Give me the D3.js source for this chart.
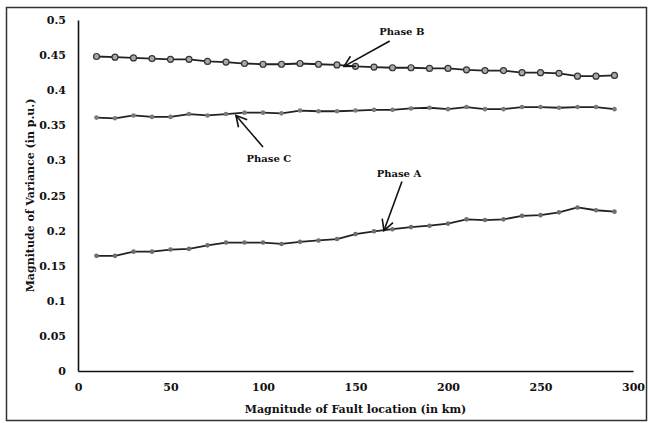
<!DOCTYPE html>
<html>
<head>
<meta charset="utf-8">
<script src="https://cdn.jsdelivr.net/npm/d3@7"></script>
<style>
  body { margin: 0; background: #fff; }
  svg text { font-family: "DejaVu Serif", "Liberation Serif", serif; font-weight: bold; fill: #111; }
</style>
</head>
<body>
<svg id="chart" width="649" height="423"></svg>
<script>
// fault location (km)
const locations = [10, 20, 30, 40, 50, 60, 70, 80, 90, 100, 110, 120, 130, 140, 150,
  160, 170, 180, 190, 200, 210, 220, 230, 240, 250, 260, 270, 280, 290];

// magnitude of variance (p.u.)
const phaseA = [0.164, 0.164, 0.170, 0.170, 0.173, 0.174, 0.179, 0.183, 0.183, 0.183,
  0.181, 0.184, 0.186, 0.188, 0.195, 0.199, 0.202, 0.205, 0.207, 0.210,
  0.216, 0.215, 0.216, 0.221, 0.222, 0.226, 0.233, 0.229, 0.227];
const phaseB = [0.448, 0.447, 0.446, 0.445, 0.444, 0.444, 0.441, 0.440, 0.438, 0.437,
  0.437, 0.438, 0.437, 0.436, 0.434, 0.433, 0.432, 0.432, 0.431, 0.431,
  0.429, 0.428, 0.428, 0.425, 0.425, 0.424, 0.420, 0.420, 0.421];
const phaseC = [0.361, 0.360, 0.364, 0.362, 0.362, 0.366, 0.364, 0.366, 0.368, 0.368,
  0.367, 0.371, 0.370, 0.370, 0.371, 0.372, 0.372, 0.374, 0.375, 0.373,
  0.376, 0.373, 0.373, 0.376, 0.376, 0.375, 0.376, 0.376, 0.373];

const xTicks = [0, 50, 100, 150, 200, 250, 300];
const yTicks = [0, 0.05, 0.1, 0.15, 0.2, 0.25, 0.3, 0.35, 0.4, 0.45, 0.5];

// arrow annotations, in data units: text anchor, arrow tail, arrow tip
const notes = [
  {label: 'Phase B', text: [175, 0.484], tail: [168.5, 0.470], tip: [143.8, 0.434]},
  {label: 'Phase C', text: [103.2, 0.303], tail: [100, 0.319], tip: [85.4, 0.364]},
  {label: 'Phase A', text: [173.5, 0.281], tail: [175.1, 0.270], tip: [165.4, 0.200]}
];

const svg = d3.select('#chart');
const margin = {left: 78, right: 16, top: 20, bottom: 52};
const width = 649, height = 423;

const x = d3.scaleLinear().domain([0, 300]).range([margin.left, width - margin.right]);
const y = d3.scaleLinear().domain([0, 0.5]).range([height - margin.bottom, margin.top]);

// outer frame
svg.append('rect')
  .attr('x', 6.5).attr('y', 7.5)
  .attr('width', 640).attr('height', 413)
  .attr('fill', 'none').attr('stroke', '#333').attr('stroke-width', 1.5);

// axes (no tick marks, just labels)
const xAxis = svg.append('g')
  .attr('transform', `translate(0,${y(0)})`)
  .call(d3.axisBottom(x).tickValues(xTicks).tickSize(0).tickPadding(12).tickFormat(d3.format('d')));
const yAxis = svg.append('g')
  .attr('transform', `translate(${x(0)},0)`)
  .call(d3.axisLeft(y).tickValues(yTicks).tickSize(0).tickPadding(12).tickFormat(d => d3.format('')(+d.toFixed(2))));

[xAxis, yAxis].forEach(g => {
  g.select('.domain').attr('stroke', '#111').attr('stroke-width', 1.6);
  g.selectAll('text').attr('font-size', 11).attr('font-family', null).attr('fill', '#111');
});

// axis titles
svg.append('text')
  .attr('x', (x(0) + x(300)) / 2).attr('y', 413)
  .attr('text-anchor', 'middle').attr('font-size', 11)
  .text('Magnitude of Fault location (in km)');
svg.append('text')
  .attr('transform', `translate(34,${y(0.25)}) rotate(-90)`)
  .attr('text-anchor', 'middle').attr('font-size', 11)
  .text('Magnitude of Variance (in p.u.)');

// series
const series = [
  {name: 'A', values: phaseA, r: 2.3, fill: '#6e6e6e', stroke: 'none'},
  {name: 'B', values: phaseB, r: 3, fill: '#a8a8a8', stroke: '#333'},
  {name: 'C', values: phaseC, r: 2.3, fill: '#7a7a7a', stroke: 'none'}
];

const line = d3.line()
  .x((d, i) => x(locations[i]))
  .y(d => y(d));

series.forEach(s => {
  const g = svg.append('g').attr('class', 'series-' + s.name);
  g.append('path')
    .datum(s.values)
    .attr('d', line)
    .attr('fill', 'none')
    .attr('stroke', '#222')
    .attr('stroke-width', 1.8);
  g.selectAll('circle')
    .data(s.values)
    .join('circle')
      .attr('cx', (d, i) => x(locations[i]))
      .attr('cy', d => y(d))
      .attr('r', s.r)
      .attr('fill', s.fill)
      .attr('stroke', s.stroke)
      .attr('stroke-width', 1.2);
});

// annotations with open arrow heads
notes.forEach(n => {
  const x1 = x(n.tail[0]), y1 = y(n.tail[1]);
  const x2 = x(n.tip[0]), y2 = y(n.tip[1]);
  const ang = Math.atan2(y1 - y2, x1 - x2);
  const len = 12, spread = 0.5;
  const g = svg.append('g').attr('class', 'note');
  g.append('line')
    .attr('x1', x1).attr('y1', y1).attr('x2', x2).attr('y2', y2)
    .attr('stroke', '#111').attr('stroke-width', 1.6);
  g.append('path')
    .attr('d', `M${x2 + len * Math.cos(ang - spread)},${y2 + len * Math.sin(ang - spread)}` +
               `L${x2},${y2}` +
               `L${x2 + len * Math.cos(ang + spread)},${y2 + len * Math.sin(ang + spread)}`)
    .attr('fill', 'none').attr('stroke', '#111').attr('stroke-width', 1.6);
  g.append('text')
    .attr('x', x(n.text[0])).attr('y', y(n.text[1]))
    .attr('dy', '0.35em')
    .attr('text-anchor', 'middle').attr('font-size', 10)
    .text(n.label);
});
</script>
</body>
</html>
